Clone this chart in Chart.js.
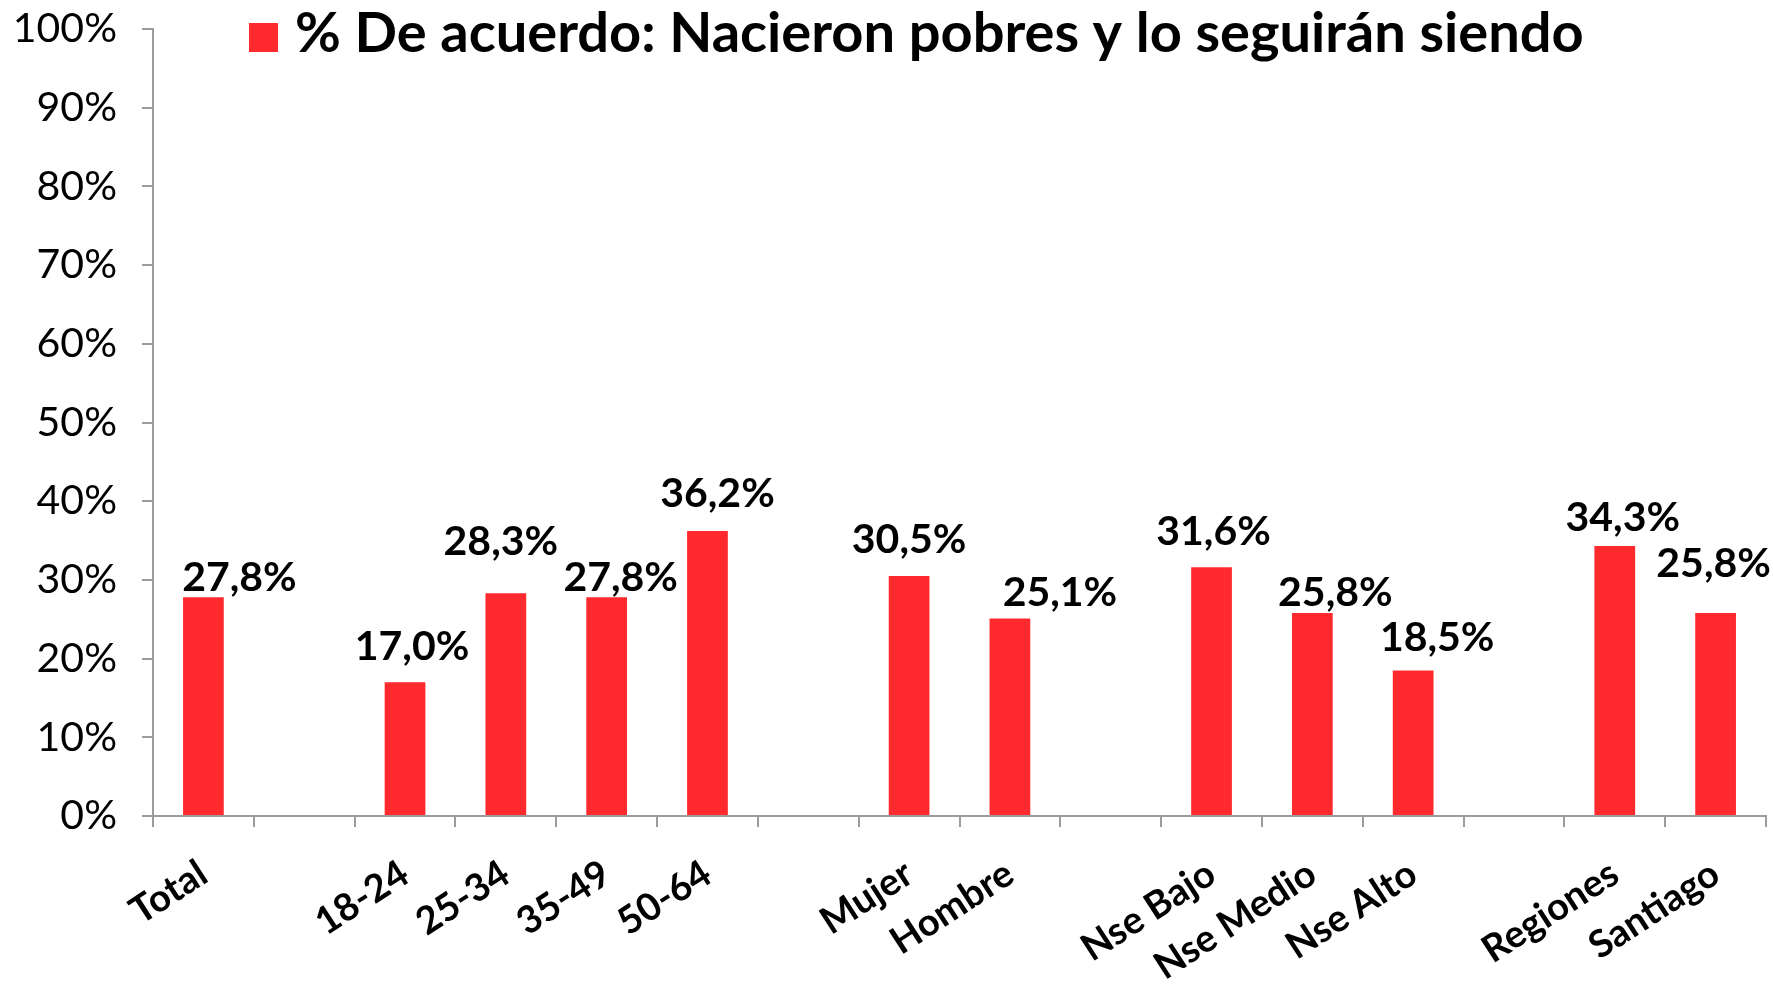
<!DOCTYPE html>
<html>
<head>
<meta charset="utf-8">
<script src="https://cdn.jsdelivr.net/npm/chart.js@4.4.0/dist/chart.umd.min.js"></script>
<style>
  html, body { margin: 0; padding: 0; background: #fff; }
  #wrap { width: 1773px; height: 984px; position: relative; }
</style>
</head>
<body>
<div id="wrap"><canvas id="grafico"></canvas></div>
<script>
// datos (los '' son separadores entre grupos)
var categorias = ['Total', '', '18-24', '25-34', '35-49', '50-64', '', 'Mujer', 'Hombre', '', 'Nse Bajo', 'Nse Medio', 'Nse Alto', '', 'Regiones', 'Santiago'];
var deAcuerdo = [27.8, null, 17.0, 28.3, 27.8, 36.2, null, 30.5, 25.1, null, 31.6, 25.8, 18.5, null, 34.3, 25.8];
var titulo = '% De acuerdo: Nacieron pobres y lo seguirán siendo';
var rojo = '#ff2a2e';
var gris = '#9c9c9c';

// etiquetas de valor sobre cada barra
var etiquetas = {
    id: 'etiquetas',
    afterDatasetsDraw: function (chart, args, opts) {
        var ctx = chart.ctx;
        var meta = chart.getDatasetMeta(0);
        ctx.save();
        ctx.font = opts.font;
        ctx.fillStyle = '#000';
        ctx.textAlign = 'center';
        ctx.textBaseline = 'alphabetic';
        meta.data.forEach(function (bar, i) {
            var v = deAcuerdo[i];
            if (v === null) return;
            var n = opts.nudge[i] || [0, 0];
            ctx.fillText(v.toFixed(1).replace('.', ',') + '%', bar.x + n[0], bar.y + n[1]);
        });
        ctx.restore();
    }
};

// leyenda encima del area del grafico, como en Excel
var leyenda = {
    id: 'leyenda',
    afterDraw: function (chart, args, opts) {
        var ctx = chart.ctx;
        var ds = chart.data.datasets[0];
        ctx.save();
        ctx.fillStyle = ds.backgroundColor;
        ctx.fillRect(249, 23, 29, 29);
        ctx.fillStyle = '#000';
        ctx.font = opts.font;
        ctx.textBaseline = 'alphabetic';
        ctx.fillText(ds.label, 295, 52);
        ctx.restore();
    }
};

new Chart(document.getElementById('grafico'), {
    type: 'bar',
    data: {
        labels: categorias,
        datasets: [{
            label: titulo,
            data: deAcuerdo,
            backgroundColor: rojo,
            barPercentage: 0.404,
            categoryPercentage: 1
        }]
    },
    options: {
        responsive: true,
        maintainAspectRatio: false,
        animation: false,
        layout: { padding: { top: 29, right: 7, left: 0, bottom: 0 } },
        plugins: {
            legend: { display: false },
            tooltip: { enabled: false },
            etiquetas: {
                font: 'bold 41px Lato',
                nudge: [[36, -6], null, [7, -22], [-5, -38], [14, -6], [10, -24], null, [0, -23], [50, -12], null, [2, -22], [23, -7], [24, -19], null, [8, -15], [-2, -36]]
            },
            leyenda: { font: 'bold 56px Lato' }
        },
        scales: {
            x: {
                grid: { drawOnChartArea: false, color: gris, lineWidth: 2, tickLength: 11, offset: true },
                border: { color: gris, width: 2 },
                ticks: {
                    autoSkip: false,
                    minRotation: 33,
                    maxRotation: 33,
                    padding: 24,
                    color: '#000',
                    font: { family: 'Lato', weight: 'bold', size: 38 }
                },
                afterFit: function (s) {
                    s.height = 168;
                    s.paddingLeft = 0;
                    s.paddingRight = 0;
                }
            },
            y: {
                min: 0,
                max: 100,
                ticks: {
                    stepSize: 10,
                    padding: 25,
                    color: '#000',
                    font: { family: 'Lato', size: 41 },
                    callback: function (v) { return v + '%'; }
                },
                grid: { drawOnChartArea: false, color: gris, lineWidth: 2, tickLength: 11 },
                border: { color: gris, width: 2 },
                afterFit: function (s) {
                    s.width = 153;
                    s.paddingTop = 0;
                    s.paddingBottom = 0;
                }
            }
        }
    },
    plugins: [etiquetas, leyenda]
});
</script>
</body>
</html>
